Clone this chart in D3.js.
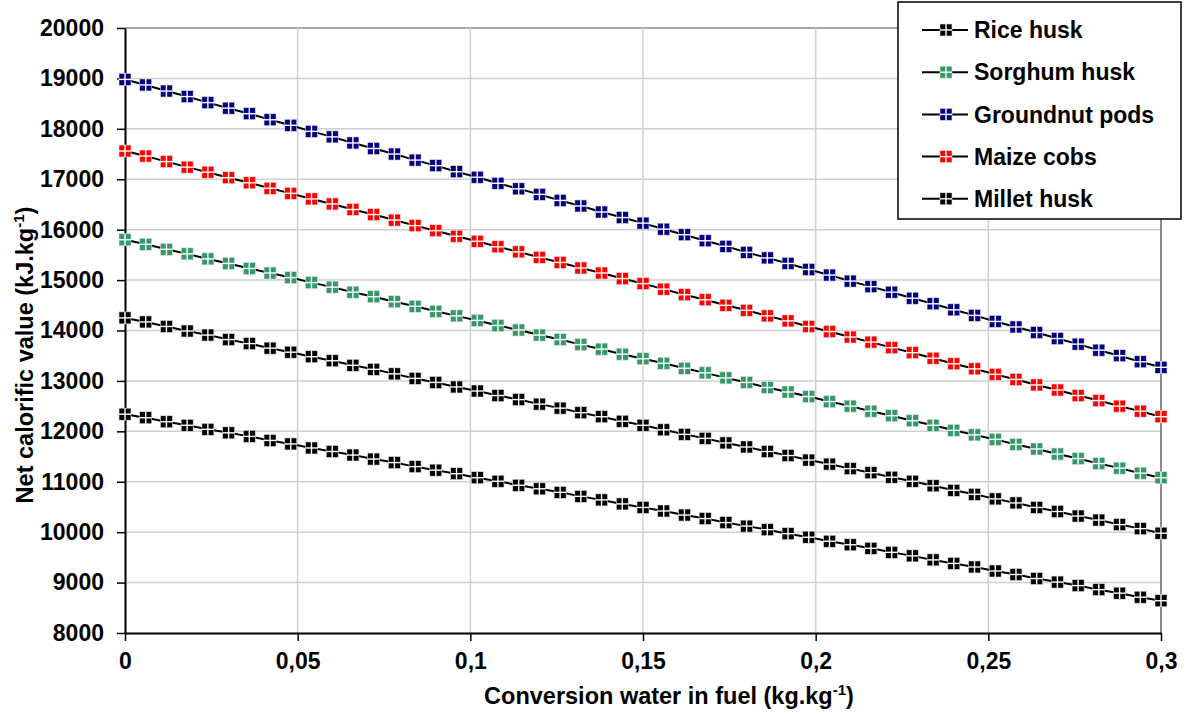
<!DOCTYPE html>
<html>
<head>
<meta charset="utf-8">
<script src="https://cdn.jsdelivr.net/npm/d3@7"></script>
<style>
  body { margin: 0; background: #fff; }
  text { font-family: "Liberation Sans", Arial, sans-serif; font-weight: bold; fill: #000; }
</style>
</head>
<body>
<div id="chart"></div>
<script>
// water content in fuel (kg/kg)
var waterContent = [0, 0.006, 0.012, 0.018, 0.024, 0.03, 0.036, 0.042, 0.048, 0.054,
  0.06, 0.066, 0.072, 0.078, 0.084, 0.09, 0.096, 0.102, 0.108, 0.114,
  0.12, 0.126, 0.132, 0.138, 0.144, 0.15, 0.156, 0.162, 0.168, 0.174,
  0.18, 0.186, 0.192, 0.198, 0.204, 0.21, 0.216, 0.222, 0.228, 0.234,
  0.24, 0.246, 0.252, 0.258, 0.264, 0.27, 0.276, 0.282, 0.288, 0.294, 0.3];

var riceHusk = [12340, 12270, 12190, 12120, 12040, 11970, 11900, 11820, 11750, 11670,
  11600, 11530, 11450, 11380, 11300, 11230, 11160, 11080, 11010, 10930,
  10860, 10790, 10710, 10640, 10560, 10490, 10420, 10340, 10270, 10190,
  10120, 10050, 9970, 9900, 9820, 9750, 9680, 9600, 9530, 9450,
  9380, 9310, 9230, 9160, 9080, 9010, 8940, 8860, 8790, 8710, 8640];

var sorghumHusk = [15800, 15710, 15610, 15520, 15420, 15330, 15230, 15140, 15050, 14950,
  14860, 14760, 14670, 14570, 14480, 14380, 14290, 14200, 14100, 14010,
  13910, 13820, 13720, 13630, 13530, 13440, 13350, 13250, 13160, 13060,
  12970, 12870, 12780, 12690, 12590, 12500, 12400, 12310, 12210, 12120,
  12020, 11930, 11840, 11740, 11650, 11550, 11460, 11360, 11270, 11170, 11080];

var groundnutPods = [18980, 18870, 18750, 18640, 18520, 18410, 18300, 18180, 18070, 17950,
  17840, 17720, 17610, 17500, 17380, 17270, 17150, 17040, 16920, 16810,
  16700, 16580, 16470, 16350, 16240, 16130, 16010, 15900, 15780, 15670,
  15550, 15440, 15330, 15210, 15100, 14980, 14870, 14760, 14640, 14530,
  14410, 14300, 14180, 14070, 13960, 13840, 13730, 13610, 13500, 13380, 13270];

var maizeCobs = [17560, 17460, 17350, 17240, 17140, 17030, 16930, 16820, 16720, 16610,
  16510, 16400, 16300, 16190, 16080, 15980, 15870, 15770, 15660, 15560,
  15450, 15350, 15240, 15140, 15030, 14930, 14820, 14710, 14610, 14500,
  14400, 14290, 14190, 14080, 13980, 13870, 13770, 13660, 13560, 13450,
  13340, 13240, 13130, 13030, 12920, 12820, 12710, 12610, 12500, 12400, 12290];

var milletHusk = [14250, 14170, 14080, 13990, 13910, 13820, 13740, 13650, 13570, 13480,
  13400, 13310, 13230, 13140, 13050, 12970, 12880, 12800, 12710, 12630,
  12540, 12460, 12370, 12290, 12200, 12120, 12030, 11940, 11860, 11770,
  11690, 11600, 11520, 11430, 11350, 11260, 11180, 11090, 11010, 10920,
  10830, 10750, 10660, 10580, 10490, 10410, 10320, 10240, 10150, 10070, 9980];

var seriesNames = ["Rice husk", "Sorghum husk", "Groundnut pods", "Maize cobs", "Millet husk"];
var seriesValues = [riceHusk, sorghumHusk, groundnutPods, maizeCobs, milletHusk];
var seriesColors = ["#000000", "#339966", "#000080", "#ff0000", "#000000"];

var xTicks = [0, 0.05, 0.1, 0.15, 0.2, 0.25, 0.3];
var yTicks = [8000, 9000, 10000, 11000, 12000, 13000, 14000, 15000, 16000, 17000, 18000, 19000, 20000];

////////////////
// DIMENSIONS //
////////////////

var svgWidth = 1189, svgHeight = 715;
var margin = { top: 28, right: 28, bottom: 82, left: 125 };
var width = svgWidth - margin.left - margin.right;
var height = svgHeight - margin.top - margin.bottom;

var svg = d3.select("#chart").append("svg")
  .attr("width", svgWidth)
  .attr("height", svgHeight);

var g = svg.append("g")
  .attr("transform", "translate(" + margin.left + "," + margin.top + ")");

var x = d3.scaleLinear().domain([0, 0.3]).range([0, width]);
var y = d3.scaleLinear().domain([8000, 20000]).range([height, 0]);

// grid
g.append("g").selectAll("line")
  .data(yTicks.slice(1))
  .enter().append("line")
  .attr("x1", 0).attr("x2", width)
  .attr("y1", function (d) { return y(d); })
  .attr("y2", function (d) { return y(d); })
  .attr("stroke", function (d) { return d === 20000 ? "#a6a6a6" : "#d0d0d0"; })
  .attr("stroke-width", function (d) { return d === 20000 ? 2 : 1.5; });

g.append("g").selectAll("line")
  .data(xTicks.slice(1))
  .enter().append("line")
  .attr("y1", 0).attr("y2", height)
  .attr("x1", function (d) { return x(d); })
  .attr("x2", function (d) { return x(d); })
  .attr("stroke", function (d) { return d === 0.3 ? "#8c8c8c" : "#d0d0d0"; })
  .attr("stroke-width", function (d) { return d === 0.3 ? 2 : 1.5; });

// axes
var fmt = function (d) { return String(d).replace(".", ","); };

var xAxis = g.append("g")
  .attr("transform", "translate(0," + height + ")")
  .call(d3.axisBottom(x).tickValues(xTicks).tickFormat(fmt).tickSize(8).tickSizeOuter(0));

var yAxis = g.append("g")
  .call(d3.axisLeft(y).tickValues(yTicks).tickFormat(d3.format("d")).tickSize(8).tickSizeOuter(0));

[xAxis, yAxis].forEach(function (ax) {
  ax.select(".domain").attr("stroke", "#000").attr("stroke-width", 2);
  ax.selectAll(".tick line").attr("stroke", "#000").attr("stroke-width", 1.5);
  ax.selectAll(".tick text")
    .style("font-family", "'Liberation Sans', Arial, sans-serif")
    .style("font-weight", "bold")
    .style("font-size", "23px")
    .attr("fill", "#000");
});
xAxis.selectAll(".tick text").attr("y", 20).attr("dy", "0.71em");
yAxis.selectAll(".tick text").attr("x", -21);

// axis titles
var xTitle = svg.append("text")
  .attr("x", 669)
  .attr("y", 704)
  .attr("text-anchor", "middle")
  .style("font-size", "23.5px");
xTitle.append("tspan").text("Conversion water in fuel (kg.kg");
xTitle.append("tspan").attr("dy", -9).style("font-size", "15px").text("-1");
xTitle.append("tspan").attr("dy", 9).text(")");

var yTitle = svg.append("text")
  .attr("transform", "translate(33,355) rotate(-90)")
  .attr("text-anchor", "middle")
  .style("font-size", "23.5px");
yTitle.append("tspan").text("Net calorific value (kJ.kg");
yTitle.append("tspan").attr("dy", -9).style("font-size", "15px").text("-1");
yTitle.append("tspan").attr("dy", 9).text(")");

// marker: filled square split in four by a white cross
function drawMarker(sel, color) {
  sel.append("rect")
    .attr("x", -6).attr("y", -6).attr("width", 12).attr("height", 12)
    .attr("fill", color)
    .attr("stroke", "#e0e0e0").attr("stroke-width", 0.6);
  sel.append("line").attr("x1", -6).attr("x2", 6).attr("y1", 0).attr("y2", 0)
    .attr("stroke", "#fff").attr("stroke-width", 1.4);
  sel.append("line").attr("y1", -6).attr("y2", 6).attr("x1", 0).attr("x2", 0)
    .attr("stroke", "#fff").attr("stroke-width", 1.4);
}

var line = d3.line()
  .x(function (d) { return x(d.x); })
  .y(function (d) { return y(d.y); });

seriesValues.forEach(function (vals, i) {
  var data = waterContent.map(function (w, j) { return { x: w, y: vals[j] }; });
  g.append("path")
    .datum(data)
    .attr("fill", "none")
    .attr("stroke", "#000")
    .attr("stroke-width", 2)
    .attr("d", line);
  g.append("g").selectAll("g")
    .data(data)
    .enter().append("g")
    .attr("transform", function (d) { return "translate(" + x(d.x) + "," + y(d.y) + ")"; })
    .each(function () { drawMarker(d3.select(this), seriesColors[i]); });
});

// legend
var legend = svg.append("g");
legend.append("rect")
  .attr("x", 898).attr("y", 2).attr("width", 283).attr("height", 217)
  .attr("fill", "#fff").attr("stroke", "#000").attr("stroke-width", 1.5);

seriesNames.forEach(function (name, i) {
  var ly = 30 + i * 42.2;
  var item = legend.append("g").attr("transform", "translate(0," + ly + ")");
  item.append("line").attr("x1", 922).attr("x2", 968).attr("y1", 0).attr("y2", 0)
    .attr("stroke", "#000").attr("stroke-width", 2);
  drawMarker(item.append("g").attr("transform", "translate(946,0)"), seriesColors[i]);
  item.append("text")
    .attr("x", 974).attr("y", 0).attr("dy", "0.36em")
    .style("font-size", "23px")
    .text(name);
});
</script>
</body>
</html>
